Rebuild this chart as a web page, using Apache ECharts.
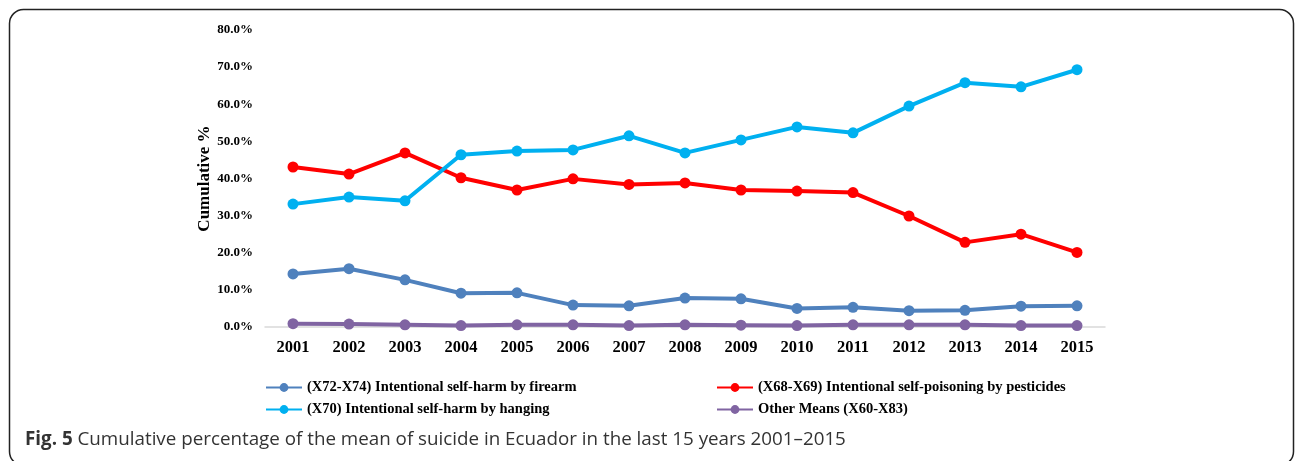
<!DOCTYPE html>
<html>
<head>
<meta charset="utf-8">
<style>
  html, body { margin: 0; padding: 0; background: #fff; }
  #main { width: 1295px; height: 461px; }
</style>
<script src="https://cdn.jsdelivr.net/npm/echarts@6/dist/echarts.min.js"></script>
</head>
<body>
<div id="main"></div>
<script>
const years = ['2001','2002','2003','2004','2005','2006','2007','2008','2009','2010','2011','2012','2013','2014','2015']
const yTicks = [0, 10, 20, 30, 40, 50, 60, 70, 80]
// values are percentages
const firearm = [14.3, 15.7, 12.7, 9.1, 9.2, 5.9, 5.7, 7.8, 7.6, 5.0, 5.3, 4.4, 4.5, 5.6, 5.7]
const pesticides = [43.1, 41.2, 46.9, 40.2, 36.9, 39.9, 38.4, 38.8, 36.9, 36.6, 36.2, 29.9, 22.8, 25.0, 20.1]
const hanging = [33.1, 35.0, 34.0, 46.4, 47.4, 47.7, 51.5, 46.9, 50.4, 53.9, 52.3, 59.5, 65.8, 64.7, 69.3]
const other = [0.9, 0.8, 0.6, 0.4, 0.6, 0.6, 0.4, 0.6, 0.5, 0.4, 0.6, 0.6, 0.6, 0.4, 0.4]

const names = {
  firearm: '(X72-X74) Intentional self-harm by firearm',
  pesticides: '(X68-X69) Intentional self-poisoning by pesticides',
  hanging: '(X70) Intentional self-harm by hanging',
  other: 'Other Means (X60-X83)'
}

const serif = '"Liberation Serif", "Times New Roman", serif'
const sans = '"Open Sans", "Noto Sans", sans-serif'
const chart = echarts.init(document.getElementById('main'))

function line(name, data, color){
  return {
    name: name,
    type: 'line',
    data: data,
    symbol: 'circle',
    symbolSize: 11,
    lineStyle: { color: color, width: 4 },
    itemStyle: { color: color },
    z: 3
  }
}

const legendText = { fontFamily: serif, fontWeight: 'bold', fontSize: 14.5, color: '#000' }

chart.setOption({
  animation: false,
  grid: { left: 265, right: 190, top: 30, bottom: 134 },
  legend: [
    {
      orient: 'vertical', left: 260, top: 375, itemGap: 7,
      itemWidth: 36, itemHeight: 11,
      data: [names.firearm, names.hanging],
      textStyle: legendText
    },
    {
      orient: 'vertical', left: 711, top: 375, itemGap: 7,
      itemWidth: 36, itemHeight: 11,
      data: [names.pesticides, names.other],
      textStyle: legendText
    }
  ],
  xAxis: {
    type: 'category',
    data: years,
    boundaryGap: true,
    axisLine: { lineStyle: { color: '#D9D9D9', width: 1.5 } },
    axisTick: { show: false },
    axisLabel: { fontFamily: serif, fontWeight: 'bold', fontSize: 16.5, color: '#000', margin: 12 }
  },
  yAxis: {
    type: 'value',
    min: yTicks[0],
    max: yTicks[yTicks.length - 1],
    interval: 10,
    name: 'Cumulative %',
    nameLocation: 'middle',
    nameGap: 52,
    nameMoveOverlap: false,
    nameTextStyle: { fontFamily: serif, fontWeight: 'bold', fontSize: 17, color: '#000' },
    axisLine: { show: false },
    axisTick: { show: false },
    splitLine: { show: false },
    axisLabel: {
      fontFamily: serif, fontWeight: 'bold', fontSize: 13, color: '#000', margin: 12,
      formatter: v => v.toFixed(1) + '%'
    }
  },
  series: [
    line(names.firearm, firearm, '#4F81BD'),
    line(names.pesticides, pesticides, '#FF0000'),
    line(names.hanging, hanging, '#00B0F0'),
    line(names.other, other, '#8064A2')
  ],
  graphic: [
    {
      type: 'rect',
      shape: { x: 9.5, y: 9.5, width: 1284, height: 456, r: 14 },
      style: { fill: 'none', stroke: '#222', lineWidth: 1.5 },
      silent: true
    },
    {
      type: 'text',
      left: 25,
      top: 430,
      style: {
        text: '{b|Fig. 5} Cumulative percentage of the mean of suicide in Ecuador in the last 15 years 2001\u20132015',
        fontFamily: sans,
        fontSize: 18.8,
        fill: '#333',
        rich: {
          b: { fontFamily: sans, fontSize: 18.8, fontWeight: 'bold', fill: '#333' }
        }
      }
    }
  ]
})
</script>
</body>
</html>
